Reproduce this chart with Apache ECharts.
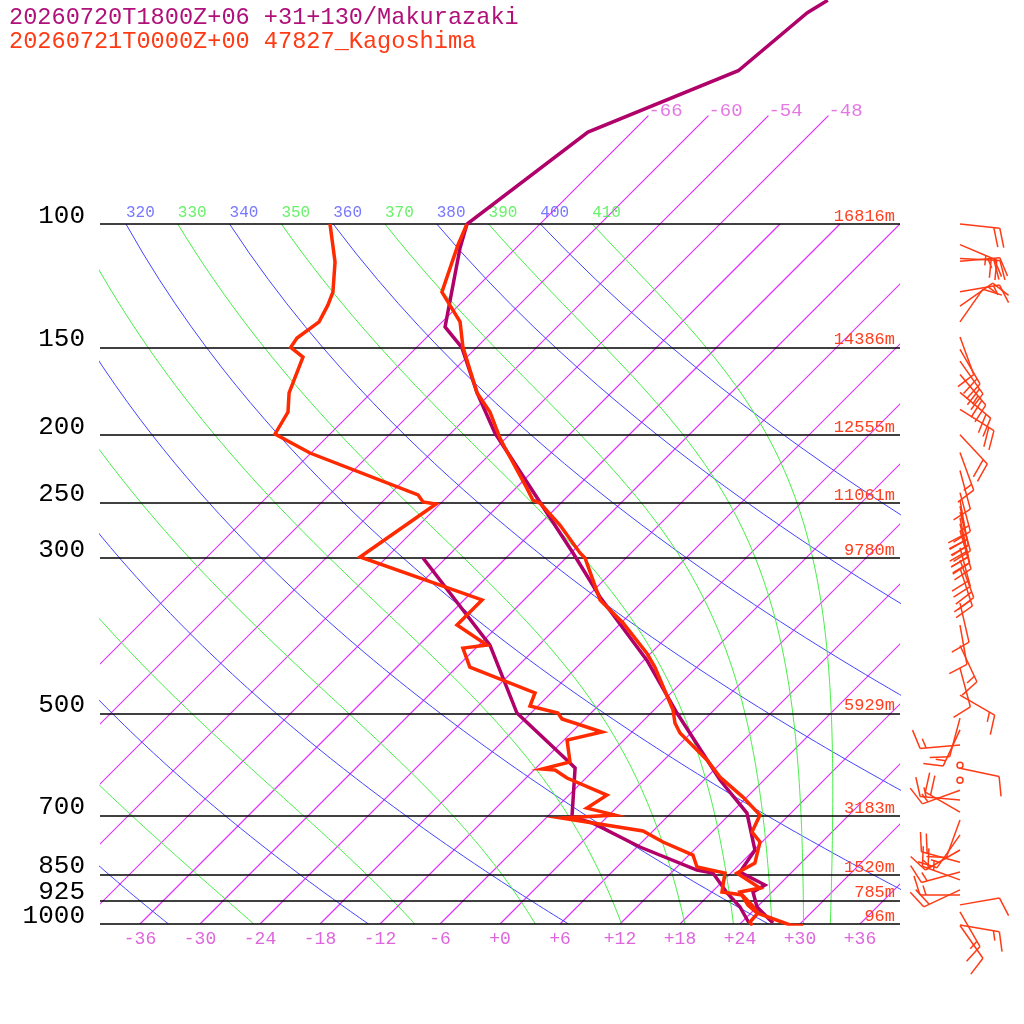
<!DOCTYPE html>
<html>
<head>
<meta charset="utf-8">
<script src="https://cdn.jsdelivr.net/npm/echarts@6/dist/echarts.min.js"></script>
<style>
html, body { margin: 0; padding: 0; background: #fff; }
#chart { width: 1024px; height: 1024px; }
</style>
</head>
<body>
<div id="chart"></div>
<script>
var FONT = '"Liberation Mono", "DejaVu Sans Mono", monospace';
var SKEW = 70;          // isotherms at 45 degrees
var KAPPA = 0.2857;
var P_TOP = 47.86;      // pressure at the top edge of the picture
var BARB_X = 46;        // wind column, in skewed x units

var titleMak = '20260720T1800Z+06 +31+130/Makurazaki';
var titleKag = '20260721T0000Z+00 47827_Kagoshima';

var pressLevels = [100, 150, 200, 250, 300, 500, 700, 850, 925, 1000];
var heightLabels = ['16816m', '14386m', '12555m', '11061m', '9780m', '5929m', '3183m', '1520m', '785m', '96m'];
var tempTicks = [-36, -30, -24, -18, -12, -6, 0, 6, 12, 18, 24, 30, 36];
var thetaLabels = [320, 330, 340, 350, 360, 370, 380, 390, 400, 410];
var topIsoTemps = [-66, -60, -54, -48];

// Kagoshima sounding
var kagP = [100, 107.2, 125.1, 138.0, 149.9, 174.3, 185.6, 202.2, 208.9, 238.4, 248.0, 250.4, 269.2, 295.1, 300,
  344.4, 371.5, 410.3, 429.6, 494.6, 516.3, 533.5, 583.1, 616.6, 658.7, 698.8, 738.9, 763.6, 818.5, 845.7,
  888.4, 900.1, 939.5, 964.5, 1003.3, 1005.6];
var kagT = [-73.3, -72.1, -69.0, -64.2, -61.4, -55.4, -52.2, -48.6, -47.1, -40.9, -39.1, -38.1, -33.9, -29.1, -28.1,
  -22.4, -17.8, -12.4, -10.2, -4.1, -2.6, -1.1, 4.3, 7.3, 11.6, 15.1, 16.0, 17.8, 19.4, 18.6,
  22.4, 20.8, 22.9, 24.6, 29.1, 30.5];
var kagTdP = [100, 113.3, 125.1, 130.6, 138.0, 145.5, 150, 154.9, 174.3, 185.6, 199.5, 212.4, 243.8, 249.5, 251.2,
  299.0, 344.4, 374.0, 399.5, 403.5, 429.6, 467.7, 488.2, 499.6, 509.5, 531.8, 545.9, 586.9, 600.6, 602.6,
  618.6, 654.4, 683.0, 698.8, 705.8, 736.4, 763.6, 797.0, 829.1, 845.7, 900.1, 908.8, 939.5, 964.5, 993.4, 1005.6];
var kagTd = [-87.0, -82.7, -79.9, -79.1, -78.3, -78.9, -78.6, -76.4, -74.2, -72.4, -71.5, -66.1, -51.1, -49.9, -48.4,
  -50.7, -34.2, -34.2, -29.2, -31.3, -28.7, -19.6, -18.8, -15.3, -14.3, -9.0, -11.7, -9.2, -11.3, -9.9,
  -7.9, -2.2, -2.9, 0.6, -4.4, 5.0, 8.1, 12.4, 14.0, 17.4, 19.0, 21.3, 23.3, 24.7, 24.8, 25.4];

// Makurazaki profile
var makP = [47.9, 49.9, 60.4, 73.9, 100, 108.2, 140.3, 150, 174.3, 198.9, 295.1, 341.1, 419.8, 499.6, 622.7,
  694.2, 784.1, 842.9, 879.7, 900.1, 945.6, 996.7];
var makT = [-59.6, -60.4, -61.5, -70.4, -73.3, -71.6, -65.2, -61.5, -55.4, -49.6, -29.8, -22.7, -11.7, -3.4, 7.6,
  13.6, 18.1, 18.8, 22.6, 22.1, 24.0, 27.2];
var makTdP = [300, 399.5, 499.6, 588.8, 598.4, 703.4, 717.5, 776.3, 837.5, 845.7, 902.8, 945.6, 996.7];
var makTd = [-44.3, -28.9, -19.4, -9.1, -8.1, -3.5, -0.8, 6.3, 14.3, 16.2, 19.6, 22.3, 24.8];

// Kagoshima winds (deg, kt)
var windP = [100, 107, 112, 113, 125, 131, 138, 145, 151, 157, 164, 174, 184, 200, 212, 225, 242, 248, 253, 258,
  263, 268, 274, 290, 302, 310, 348, 374, 400, 431, 471, 508, 528, 555, 593, 599, 623, 644, 665, 692,
  710, 746, 784, 816, 843, 865, 894, 909, 939, 961, 1003, 1005];
var windDir = [96, 113, 93, 85, 80, 55, 35, 160, 150, 145, 140, 130, 122, 137, 160, 165, 165, 170, 168, 165,
  168, 166, 164, 165, 160, 162, 167, 170, 155, 165, 120, 195, 205, 265, 0, 102, 0, 250, 275, 300,
  200, 215, 240, 285, 255, 290, 245, 270, 80, 150, 100, 145];
var windSpd = [20, 25, 20, 25, 15, 15, 10, 10, 20, 20, 25, 20, 20, 20, 15, 10, 15, 20, 20, 20,
  20, 20, 20, 20, 20, 20, 10, 10, 15, 10, 15, 10, 15, 15, 0, 10, 0, 15, 15, 20,
  10, 15, 15, 20, 15, 25, 20, 15, 10, 15, 15, 10];

function sx(t, p) { return t + SKEW * Math.log10(1000 / p); }

function profile(ps, ts) {
  return ps.map(function (p, i) { return [sx(ts[i], p), p]; });
}

function dTdp(T, p) {
  var es = 6.112 * Math.exp(17.67 * (T - 273.15) / (T - 29.65));
  var rs = 0.622 * es / (p - es);
  var num = 287.04 * T + 2.501e6 * rs;
  var den = 1005.7 + 2.501e6 * 2.501e6 * rs * 0.622 / (287.04 * T * T);
  return num / den / p;
}

function moistCurve(theta) {
  var T = theta * Math.pow(0.1, KAPPA), p = 100, h = 5;
  var pts = [[sx(T - 273.15, p), p]];
  while (p < 1000 - 1e-6) {
    var k1 = dTdp(T, p), k2 = dTdp(T + h / 2 * k1, p + h / 2),
        k3 = dTdp(T + h / 2 * k2, p + h / 2), k4 = dTdp(T + h * k3, p + h);
    T += h / 6 * (k1 + 2 * k2 + 2 * k3 + k4);
    p += h;
    pts.push([sx(T - 273.15, p), p]);
  }
  return pts;
}

function dryCurve(theta) {
  var pts = [];
  for (var p = 100; p <= 1000; p += 10) {
    pts.push([sx(theta * Math.pow(p / 1000, KAPPA) - 273.15, p), p]);
  }
  return pts;
}

function bgLine(data, color) {
  return { type: 'line', data: data, showSymbol: false, silent: true, clip: true, z: 1,
    color: color, lineStyle: { color: color, width: 1 } };
}

var series = [];

// isotherms, drawn as straight segments
var isoData = [];
for (var ti = -66; ti <= 36; ti += 6) {
  var pTop = topIsoTemps.indexOf(ti) >= 0 ? 70 : 100;
  isoData.push([sx(ti, 1000), 1000, sx(ti, pTop), pTop]);
}
series.push({
  type: 'custom', silent: true, clip: true, z: 1, data: isoData,
  renderItem: function (params, api) {
    var a = api.coord([api.value(0), api.value(1)]);
    var b = api.coord([api.value(2), api.value(3)]);
    return { type: 'line', shape: { x1: a[0], y1: a[1], x2: b[0], y2: b[1] },
      style: { stroke: '#e030ff', lineWidth: 1.2, fill: null } };
  }
});
for (var th = 200; th <= 400; th += 20) series.push(bgLine(dryCurve(th), '#4444ff'));
for (var tm = 210; tm <= 410; tm += 20) series.push(bgLine(moistCurve(tm), '#44ee44'));

// pressure level lines
series.push({
  type: 'line', data: [], silent: true,
  markLine: { silent: true, symbol: 'none', label: { show: false },
    lineStyle: { color: '#000', width: 1.6, type: 'solid' },
    data: pressLevels.map(function (p) { return { yAxis: p }; }) }
});

// pressure labels on the left, heights on the right
series.push({
  type: 'custom', silent: true, clip: false, z: 6,
  data: pressLevels.map(function (p, i) { return [p, i]; }),
  renderItem: function (params, api) {
    var p = api.value(0), i = api.value(1);
    var l = api.coord([-40, p]), r = api.coord([40, p]);
    return { type: 'group', children: [
      { type: 'text', style: { x: l[0] - 15, y: l[1] - 8, text: String(pressLevels[i]), fill: '#000',
        font: '26px ' + FONT, align: 'right', verticalAlign: 'middle' } },
      { type: 'text', style: { x: r[0] - 5, y: r[1] - 7.5, text: heightLabels[i], fill: '#ff4020',
        font: '17px ' + FONT, align: 'right', verticalAlign: 'middle' } }
    ] };
  }
});

// theta labels along 100 hPa
series.push({
  type: 'scatter', symbolSize: 0, silent: true, z: 5,
  data: thetaLabels.map(function (th) {
    return { name: String(th), value: [sx(th * Math.pow(0.1, KAPPA) - 273.15, 100), 100],
      label: { color: th % 20 === 0 ? '#5555ff' : '#44ee44' } };
  }),
  label: { show: true, formatter: '{b}', position: [0, -11], align: 'left', verticalAlign: 'middle',
    fontSize: 16, fontFamily: FONT }
});

// isotherm labels at the top
series.push({
  type: 'scatter', symbolSize: 0, silent: true, z: 5,
  data: topIsoTemps.map(function (t) { return { name: String(t), value: [sx(t, 70), 70] }; }),
  label: { show: true, formatter: '{b}', position: [0, -5], align: 'left', verticalAlign: 'middle',
    fontSize: 19, fontFamily: FONT, color: '#dd55dd' }
});

function sounding(data, color, z) {
  return { type: 'line', data: data, showSymbol: false, silent: true, clip: true, z: z,
    color: color, lineStyle: { color: color, width: 3.5, join: 'miter' } };
}
series.push(sounding(profile(makP, makT), '#b0006a', 10));
series.push(sounding(profile(makTdP, makTd), '#b0006a', 10));
series.push(sounding(profile(kagP, kagT), '#ff2a00', 11));
series.push(sounding(profile(kagTdP, kagTd), '#ff2a00', 11));

// wind barbs
function renderBarb(params, api) {
  var pt = api.coord([api.value(0), api.value(1)]);
  var dir = api.value(2) * Math.PI / 180, spd = api.value(3);
  var style = { stroke: '#ff3a14', lineWidth: 1.5, fill: null };
  if (spd < 2.5) {
    return { type: 'circle', shape: { cx: pt[0], cy: pt[1], r: 3 }, style: style };
  }
  var ux = Math.sin(dir), uy = -Math.cos(dir);
  var px = -uy, py = ux;
  var L = 40, F = 20, gap = 6;
  var ex = pt[0] + ux * L, ey = pt[1] + uy * L;
  var kids = [{ type: 'line', shape: { x1: pt[0], y1: pt[1], x2: ex, y2: ey }, style: style }];
  var rest = Math.round(spd / 5) * 5, pos = L;
  function feather(len) {
    var bx = pt[0] + ux * pos, by = pt[1] + uy * pos;
    kids.push({ type: 'line', shape: { x1: bx, y1: by,
      x2: bx + ux * len * 0.3 + px * len * 0.95, y2: by + uy * len * 0.3 + py * len * 0.95 }, style: style });
  }
  while (rest >= 10) { feather(F); pos -= gap; rest -= 10; }
  if (rest >= 5) { if (pos === L) pos -= gap; feather(F / 2); }
  return { type: 'group', children: kids };
}
series.push({
  type: 'custom', renderItem: renderBarb, silent: true, clip: false, z: 12,
  data: windP.map(function (p, i) { return [BARB_X, p, windDir[i], windSpd[i]]; })
});

var chart = echarts.init(document.getElementById('chart'));
chart.setOption({
  animation: false,
  backgroundColor: '#fff',
  title: [
    { text: titleMak, left: 4, top: 1, textStyle: { color: '#b0107a', fontSize: 23.6, fontWeight: 'normal', fontFamily: FONT } },
    { text: titleKag, left: 4, top: 25, textStyle: { color: '#ff3a14', fontSize: 23.6, fontWeight: 'normal', fontFamily: FONT } }
  ],
  grid: { left: 100, right: 124, top: 0, bottom: 100 },
  xAxis: {
    type: 'value', min: -40, max: 40,
    axisLine: { show: false }, axisTick: { show: false }, splitLine: { show: false },
    axisLabel: { customValues: tempTicks, margin: 6, fontSize: 18, fontFamily: FONT, color: '#dd66dd',
      formatter: function (v) { return v > 0 ? '+' + v : (v === 0 ? '+0' : String(v)); } }
  },
  yAxis: {
    type: 'log', logBase: 10, inverse: true, min: P_TOP, max: 1000,
    axisLine: { show: false }, axisTick: { show: false }, splitLine: { show: false },
    axisLabel: { show: false }
  },
  series: series
});
</script>
</body>
</html>
